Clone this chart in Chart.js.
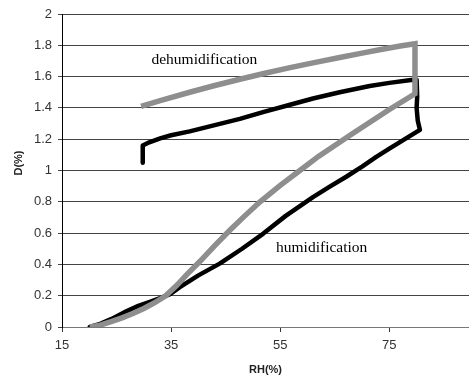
<!DOCTYPE html>
<html><head><meta charset="utf-8">
<script src="https://cdn.jsdelivr.net/npm/chart.js@4/dist/chart.umd.min.js"></script>
<style>html,body{margin:0;padding:0;background:#fff;overflow:hidden}#wrap{width:469px;height:376px;position:relative}</style>
</head><body><div id="wrap"><canvas id="c" width="469" height="376"></canvas></div>
<script>
// Grey curve (RH %, D %): humidification branch, then vertical rise, then dehumidification branch
const greyRH = [20.1, 22, 24, 26, 28, 30, 32, 34, 36, 38, 40.3, 43, 45.8, 48.5, 51.3, 55, 58.6, 62, 65, 68, 71.5, 75, 79.7,
                79.7, 77, 73.2, 70, 65.9, 61, 56.8, 52, 47.6, 43, 38.4, 33, 29.5];
const greyD  = [0, 0.012, 0.034, 0.058, 0.086, 0.118, 0.155, 0.2, 0.265, 0.34, 0.42, 0.52, 0.62, 0.71, 0.80, 0.905, 1.0, 1.09, 1.16, 1.23, 1.31, 1.39, 1.49,
                1.81, 1.795, 1.772, 1.75, 1.722, 1.688, 1.657, 1.62, 1.583, 1.543, 1.50, 1.447, 1.41];
// Black curve (RH %, D %)
const blackRH = [20.1, 22, 24, 26.8, 29, 31.1, 33, 34.8, 36.6, 40, 43.9, 48, 51.9, 56, 61, 64, 67.1, 70, 72.6, 75, 80.6,
                 80.2, 80.0, 80.1, 80.0, 79, 75, 71.4, 65.9, 61, 56.8, 52, 47.6, 43, 38.4, 35, 33, 31, 29.8, 29.8];
const blackD  = [0, 0.02, 0.05, 0.1, 0.135, 0.16, 0.185, 0.21, 0.255, 0.33, 0.405, 0.5, 0.597, 0.71, 0.83, 0.895, 0.96, 1.025, 1.087, 1.14, 1.26,
                 1.32, 1.40, 1.47, 1.58, 1.578, 1.56, 1.54, 1.50, 1.46, 1.42, 1.375, 1.33, 1.29, 1.25, 1.225, 1.205, 1.18, 1.16, 1.05];
const xTicks = [15, 35, 55, 75];
const yTicks = [0, 0.2, 0.4, 0.6, 0.8, 1, 1.2, 1.4, 1.6, 1.8, 2];
const xTitle = 'RH(%)';
const yTitle = 'D(%)';
const notes = [
  {text: 'dehumidification', rh: 41.1, d: 1.678},
  {text: 'humidification', rh: 62.6, d: 0.479}
];

const toPts = (xs, ys) => xs.map((x, i) => ({x: x, y: ys[i]}));

const notesPlugin = {
  id: 'notes',
  afterDatasetsDraw(chart) {
    const ctx = chart.ctx, xs = chart.scales.x, ys = chart.scales.y;
    ctx.save();
    ctx.font = '15.5px "Liberation Serif", "Times New Roman", serif';
    ctx.fillStyle = '#000';
    ctx.textAlign = 'center';
    ctx.textBaseline = 'alphabetic';
    notes.forEach(n => ctx.fillText(n.text, xs.getPixelForValue(n.rh), ys.getPixelForValue(n.d)));
    ctx.restore();
  },
  afterDraw(chart) {
    const ctx = chart.ctx, a = chart.chartArea;
    ctx.save();
    ctx.font = 'bold 11px "Liberation Sans", Arial, sans-serif';
    ctx.fillStyle = '#222';
    ctx.textAlign = 'center';
    ctx.textBaseline = 'middle';
    ctx.fillText(xTitle, (a.left + a.right) / 2, 370);
    ctx.translate(18.5, 163);
    ctx.rotate(-Math.PI / 2);
    ctx.fillText(yTitle, 0, 0);
    ctx.restore();
  }
};

new Chart(document.getElementById('c'), {
  type: 'scatter',
  data: {
    datasets: [
      {data: toPts(greyRH, greyD), showLine: true, borderColor: '#8e8e8e', borderWidth: 5.5, pointRadius: 0, tension: 0, borderJoinStyle: 'miter', borderCapStyle: 'butt'},
      {data: toPts(blackRH, blackD), showLine: true, borderColor: '#000', borderWidth: 4.5, pointRadius: 0, tension: 0, borderJoinStyle: 'round', borderCapStyle: 'round'}
    ]
  },
  options: {
    responsive: false,
    animation: false,
    layout: {padding: {top: 14, right: 0, left: 0, bottom: 0}},
    plugins: {legend: {display: false}, tooltip: {enabled: false}},
    scales: {
      x: {
        type: 'linear', min: 15, max: 89.6,
        afterBuildTicks: s => { s.ticks = xTicks.map(v => ({value: v})); },
        afterFit: s => { s.height = 49; },
        grid: {drawOnChartArea: false, tickLength: 5, color: '#333'},
        border: {display: true, color: '#777', width: 1},
        ticks: {padding: 6, color: '#333', font: {family: '"Liberation Sans", Arial, sans-serif', size: 13}, maxRotation: 0, callback: v => String(v)}
      },
      y: {
        type: 'linear', min: 0, max: 2,
        afterBuildTicks: s => { s.ticks = yTicks.map(v => ({value: v})); },
        afterFit: s => { s.width = 62; },
        grid: {color: '#444', tickLength: 4},
        border: {display: true, color: '#000', width: 1},
        ticks: {padding: 6, color: '#333', font: {family: '"Liberation Sans", Arial, sans-serif', size: 13}, callback: v => String(Math.round(v * 10) / 10)}
      }
    }
  },
  plugins: [notesPlugin]
});
</script>
</body></html>
